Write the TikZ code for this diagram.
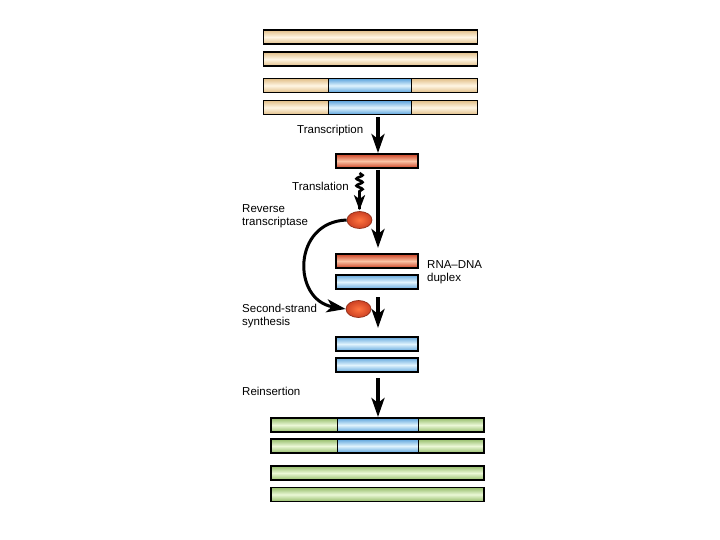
\documentclass[tikz,border=0pt]{standalone}
\usepackage{fontspec}
\setmainfont{Liberation Sans}
\usetikzlibrary{arrows.meta,shapes.geometric,decorations.pathmorphing,calc}
\definecolor{tanD}{RGB}{225,190,135}
\definecolor{tanL}{RGB}{255,246,228}
\definecolor{bluD}{RGB}{100,168,222}
\definecolor{bluL}{RGB}{225,244,253}
\definecolor{redD}{RGB}{205,65,35}
\definecolor{redL}{RGB}{250,195,165}
\definecolor{grnD}{RGB}{148,188,105}
\definecolor{grnL}{RGB}{235,248,215}
\begin{document}
\begin{tikzpicture}[x=1pt,y=-1pt,
  bar/.style={draw=black, line width=1.5pt, rectangle, inner sep=0pt, outer sep=0pt, minimum height=14pt},
  tanbar/.style={bar, top color=tanD, bottom color=tanD, middle color=tanL},
  blubar/.style={bar, top color=bluD, bottom color=bluD, middle color=bluL},
  redbar/.style={bar, top color=redD, bottom color=redD, middle color=redL},
  grnbar/.style={bar, top color=grnD, bottom color=grnD, middle color=grnL},
  seg/.style={rectangle, inner sep=0pt, outer sep=0pt, minimum height=13pt, top color=bluD, bottom color=bluD, middle color=bluL},
  enzyme/.style={ellipse, draw=redD!70!black, line width=0.7pt, inner sep=0pt, minimum width=25pt, minimum height=17pt, inner color=orange!55!red!75, outer color=redD},
  tip/.style={-{Stealth[length=19pt,width=13pt,inset=5pt]}},
  bigarrow/.style={line width=3.4pt, tip},
  lbl/.style={font=\fontsize{11.5}{13}\selectfont, align=left, inner sep=0pt, anchor=west}
]
\useasboundingbox (0,0) rectangle (720,540);
% top genome
\node[tanbar, minimum width=214pt] (g1) at (370.5,37) {};
\node[tanbar, minimum width=214pt] (g2) at (370.5,59) {};
\node[tanbar, minimum width=214pt] (g3) at (370.5,85.5) {};
\node[tanbar, minimum width=214pt] (g4) at (370.5,107.5) {};
\node[seg, minimum width=83pt] (g3b) at (370,85.5) {};
\node[seg, minimum width=83pt] (g4b) at (370,107.5) {};
\foreach \n in {g3,g4}{
  \draw[line width=1.5pt] (\n.north west) rectangle (\n.south east);
  \draw[line width=1pt] (\n b.north west) -- (\n b.south west);
  \draw[line width=1pt] (\n b.north east) -- (\n b.south east);
}
% RNA
\node[redbar, minimum width=82pt] (rna) at (377,161) {};
% duplex
\node[redbar, minimum width=82pt] (drna) at (377,261) {};
\node[blubar, minimum width=82pt] (ddna) at (377,282) {};
% ds DNA
\node[blubar, minimum width=82pt] (c1) at (377,344) {};
\node[blubar, minimum width=82pt] (c2) at (377,365) {};
% enzymes
\node[enzyme] (e1) at (359.5,220) {};
\node[enzyme] (e2) at (358.5,309) {};
% bottom genome
\node[grnbar, minimum width=213pt] (h1) at (377.5,425) {};
\node[grnbar, minimum width=213pt] (h2) at (377.5,446) {};
\node[grnbar, minimum width=213pt] (h3) at (377.5,473) {};
\node[grnbar, minimum width=213pt] (h4) at (377.5,494.5) {};
\node[seg, minimum width=81pt] (h1b) at (377.5,425) {};
\node[seg, minimum width=81pt] (h2b) at (377.5,446) {};
\foreach \n in {h1,h2}{
  \draw[line width=1.5pt] (\n.north west) rectangle (\n.south east);
  \draw[line width=1pt] (\n b.north west) -- (\n b.south west);
  \draw[line width=1pt] (\n b.north east) -- (\n b.south east);
}
% arrows
\coordinate (a1s) at ($(g4.south -| 378,0)+(0,3)$);
\coordinate (a1e) at ($(rna.north -| 378,0)+(0,-1)$);
\draw[bigarrow] (a1s) -- (a1e);
\coordinate (a2s) at ($(rna.south -| 378,0)+(0,2)$);
\coordinate (a2e) at ($(drna.north -| 378,0)+(0,-6)$);
\draw[bigarrow] (a2s) -- (a2e);
\coordinate (a3s) at ($(ddna.south -| 378,0)+(0,8)$);
\coordinate (a3e) at ($(c1.north -| 378,0)+(0,-9)$);
\draw[bigarrow] (a3s) -- (a3e);
\coordinate (a4s) at ($(c2.south -| 378,0)+(0,6)$);
\coordinate (a4e) at ($(h1.north -| 378,0)+(0,-1)$);
\draw[bigarrow] (a4s) -- (a4e);
% translation squiggle
\coordinate (ws) at ($(rna.south -| e1.north)+(0,5)$);
\draw[line width=2.6pt, decorate, decoration={snake, segment length=7pt, amplitude=3pt, post length=16pt}]
  (ws) -- ($(e1.north)+(0,-2)$);
\draw[line width=2.8pt, -{Stealth[length=15pt,width=11pt,inset=4pt]}] ($(e1.north)+(0,-18)$) -- ($(e1.north)+(0,-1)$);
% curved arrow
\draw[line width=3pt, tip]
  (e1.west) .. controls (292,222) and (292,300) .. (e2.west);
% labels
\node[lbl] (tx) at (297,131) {Transcription};
\node[lbl] (tl) at (292,186) {Translation};
\node[lbl] (rt) at (242,216.5) {Reverse\\transcriptase};
\node[lbl] (dx) at (427,272) {RNA–DNA\\duplex};
\node[lbl] (ss) at (242,316.5) {Second-strand\\synthesis};
\node[lbl] (ri) at (242,391) {Reinsertion};
\end{tikzpicture}
\end{document}
